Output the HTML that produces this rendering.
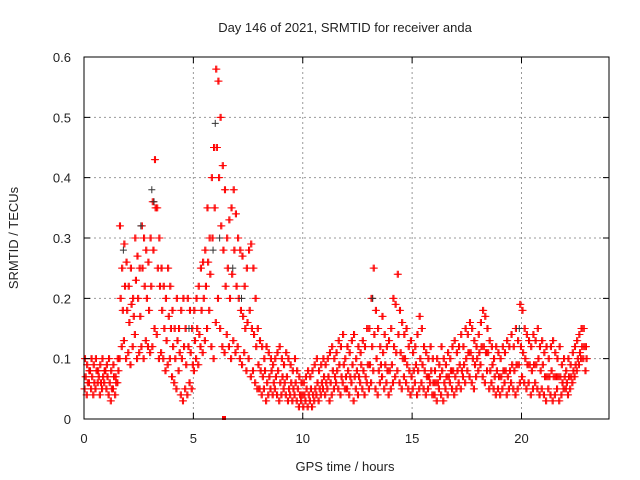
<!DOCTYPE html>
<html><head><meta charset="utf-8"><style>
body{margin:0;background:#fff}
svg{display:block;font-family:"Liberation Sans",sans-serif;font-size:13px;fill:#222}
</style></head><body>
<svg id="chart" width="640" height="480" viewBox="0 0 640 480" xmlns="http://www.w3.org/2000/svg">
<text x="345" y="32" text-anchor="middle">Day 146 of 2021, SRMTID for receiver anda</text>
<text x="345" y="471" text-anchor="middle">GPS time / hours</text>
<text transform="translate(18,238) rotate(-90)" text-anchor="middle">SRMTID / TECUs</text>
<g id="grid"></g>
<g id="marks"></g>
<rect x="84" y="57" width="525" height="362" fill="none" stroke="#000" stroke-width="1"/>
<g id="ticks"></g>
</svg>
<script>
const xTicks=[0,5,10,15,20];
const yTicks=[0,0.1,0.2,0.3,0.4,0.5,0.6];
const yTickLabels=["0","0.1","0.2","0.3","0.4","0.5","0.6"];
const startHour=0, stepHour=0.1;
const hiVals=[.10,.09,.08,.10,.09,.10,.08,.09,.10,.08,
.09,.10,.08,.09,.07,.10,.32,.25,.29,.26,
.22,.25,.20,.30,.27,.25,.32,.30,.28,.26,
.30,.36,.43,.35,.30,.25,.22,.20,.25,.22,
.18,.15,.20,.15,.18,.20,.15,.20,.18,.15,
.18,.20,.22,.25,.26,.28,.35,.30,.40,.45,
.58,.56,.50,.42,.38,.30,.33,.35,.38,.34,
.30,.28,.27,.22,.25,.28,.29,.25,.20,.15,
.13,.12,.10,.12,.11,.10,.09,.10,.11,.12,
.10,.09,.11,.10,.09,.08,.10,.08,.07,.06,
.06,.07,.08,.07,.08,.09,.10,.08,.09,.10,
.09,.10,.11,.12,.10,.11,.13,.12,.14,.10,
.12,.11,.13,.14,.10,.12,.11,.13,.12,.15,
.15,.20,.25,.18,.15,.12,.17,.14,.12,.13,
.15,.20,.19,.24,.18,.16,.14,.15,.12,.13,
.11,.12,.14,.17,.15,.12,.11,.10,.12,.10,
.08,.10,.09,.12,.10,.09,.11,.10,.12,.13,
.11,.12,.14,.12,.15,.14,.16,.15,.13,.12,
.14,.16,.18,.17,.15,.13,.12,.10,.12,.11,
.10,.12,.11,.13,.12,.14,.12,.15,.13,.19,
.18,.15,.14,.13,.12,.14,.13,.15,.12,.13,
.11,.12,.10,.12,.13,.11,.10,.12,.09,.10,
.08,.10,.09,.11,.12,.13,.14,.15,.15,.12];
const midVals=[.07,.06,.08,.07,.06,.08,.07,.06,.07,.08,
.07,.06,.05,.07,.06,.08,.20,.18,.22,.18,
.16,.19,.17,.23,.20,.17,.25,.22,.20,.18,
.22,.28,.35,.25,.22,.18,.15,.13,.17,.15,
.12,.10,.13,.11,.10,.12,.09,.12,.11,.09,
.13,.15,.14,.18,.20,.22,.26,.24,.30,.35,
.45,.40,.32,.28,.22,.25,.20,.24,.28,.22,
.20,.18,.17,.15,.16,.18,.15,.14,.12,.09,
.08,.07,.08,.06,.07,.08,.06,.07,.08,.06,
.07,.06,.07,.05,.06,.05,.06,.05,.04,.04,
.04,.05,.04,.05,.04,.05,.06,.05,.06,.07,
.06,.07,.06,.08,.07,.08,.09,.07,.09,.07,
.08,.07,.09,.07,.08,.07,.09,.08,.07,.09,
.09,.12,.14,.10,.08,.09,.11,.09,.08,.08,
.09,.12,.11,.14,.11,.10,.10,.09,.08,.07,
.08,.09,.08,.10,.09,.08,.07,.07,.08,.06,
.06,.06,.07,.08,.06,.07,.07,.08,.08,.07,
.08,.09,.08,.09,.10,.11,.11,.10,.09,.10,
.11,.12,.12,.11,.11,.08,.09,.07,.08,.07,
.07,.08,.08,.07,.08,.09,.08,.09,.09,.12,
.11,.10,.09,.09,.08,.09,.09,.10,.08,.09,
.07,.07,.07,.08,.07,.07,.07,.07,.06,.07,
.06,.07,.07,.08,.09,.10,.11,.12,.12,.10];
const loVals=[.05,.04,.06,.05,.04,.05,.06,.04,.05,.06,
.05,.04,.03,.05,.04,.06,.10,.12,.13,.10,
.11,.09,.12,.14,.10,.11,.12,.10,.13,.12,
.11,.12,.15,.14,.10,.11,.10,.08,.09,.10,
.07,.06,.05,.08,.04,.03,.05,.04,.06,.05,
.08,.10,.09,.12,.11,.13,.15,.18,.12,.10,
.16,.20,.15,.12,.11,.14,.12,.10,.13,.11,
.12,.10,.09,.11,.08,.10,.07,.08,.06,.05,
.05,.04,.05,.03,.04,.05,.04,.05,.04,.03,
.04,.05,.04,.03,.04,.03,.04,.03,.02,.03,
.02,.03,.02,.03,.02,.03,.04,.03,.04,.05,
.04,.05,.03,.04,.05,.06,.05,.04,.06,.05,
.05,.04,.06,.03,.05,.04,.06,.05,.04,.06,
.05,.06,.08,.05,.04,.06,.07,.05,.06,.04,
.05,.06,.07,.08,.06,.05,.07,.06,.05,.04,
.05,.06,.04,.05,.06,.05,.04,.05,.06,.04,
.04,.03,.05,.04,.03,.05,.04,.06,.05,.04,
.05,.06,.05,.07,.06,.08,.07,.06,.05,.07,
.08,.09,.07,.06,.08,.05,.06,.05,.04,.05,
.04,.05,.06,.04,.05,.06,.05,.04,.05,.06,
.07,.06,.05,.06,.04,.05,.06,.05,.04,.05,
.04,.03,.05,.04,.03,.04,.05,.03,.04,.05,
.05,.04,.05,.06,.07,.08,.09,.10,.10,.08];
const blackTimes=[1.8,2.6,3.1,3.2,4.8,5.9,6.0,6.2,6.8,7.2,13.2,19.9];
const blackVals=[0.28,0.32,0.38,0.36,0.15,0.28,0.49,0.30,0.25,0.20,0.20,0.15];

const X=h=>84+h*(525/24);
const Y=v=>419-v*(362/0.6);
const NS="http://www.w3.org/2000/svg";
const grid=document.getElementById('grid'),ticks=document.getElementById('ticks'),marks=document.getElementById('marks');
function mk(tag,attrs,parent){const e=document.createElementNS(NS,tag);for(const k in attrs)e.setAttribute(k,attrs[k]);parent.appendChild(e);return e;}
xTicks.forEach(t=>{
  if(t>0){const g=mk('line',{x1:X(t),x2:X(t),y1:57,y2:419,stroke:'#999','stroke-dasharray':'2,3'},grid);
  
  }
  const tk=mk('path',{d:`M${X(t)},419v-6M${X(t)},57v6`,stroke:'#000'},ticks);
  
  
  const l=mk('text',{x:X(t),y:443,'text-anchor':'middle'},ticks);l.textContent=String(t);
  
  
});
yTicks.forEach((t,i)=>{
  if(t>0&&t<0.6){const g=mk('line',{x1:84,x2:609,y1:Y(t),y2:Y(t),stroke:'#999','stroke-dasharray':'2,3'},grid);
  
  }
  const tk=mk('path',{d:`M84,${Y(t)}h6M609,${Y(t)}h-6`,stroke:'#000'},ticks);
  
  
  const l=mk('text',{x:71,y:Y(t)+5,'text-anchor':'end'},ticks);l.textContent=yTickLabels[i];
  
  
});
function plus(h,v,color,name){
  const x=X(h),y=Y(v);
  const p=mk('path',{d:`M${x-3.5},${y}h7M${x},${y-3.5}v7`,stroke:color,'stroke-width':1},marks);
  
  
}
[[loVals,0],[midVals,0.05],[hiVals,0.02]].forEach(([arr,off])=>{
  arr.forEach((v,i)=>{
    plus(startHour+i*stepHour+off,v,'#ff0000','srmtid-point');
    plus(startHour+i*stepHour+off+0.05,v,'#ff0000','srmtid-point');
  });
});
blackTimes.forEach((t,i)=>plus(t,blackVals[i],'#333','srmtid-point-alt'));
const sq=mk('rect',{x:X(6.4)-2,y:Y(0)-3,width:4,height:4,fill:'#ff0000'},marks);


</script>
</body></html>
